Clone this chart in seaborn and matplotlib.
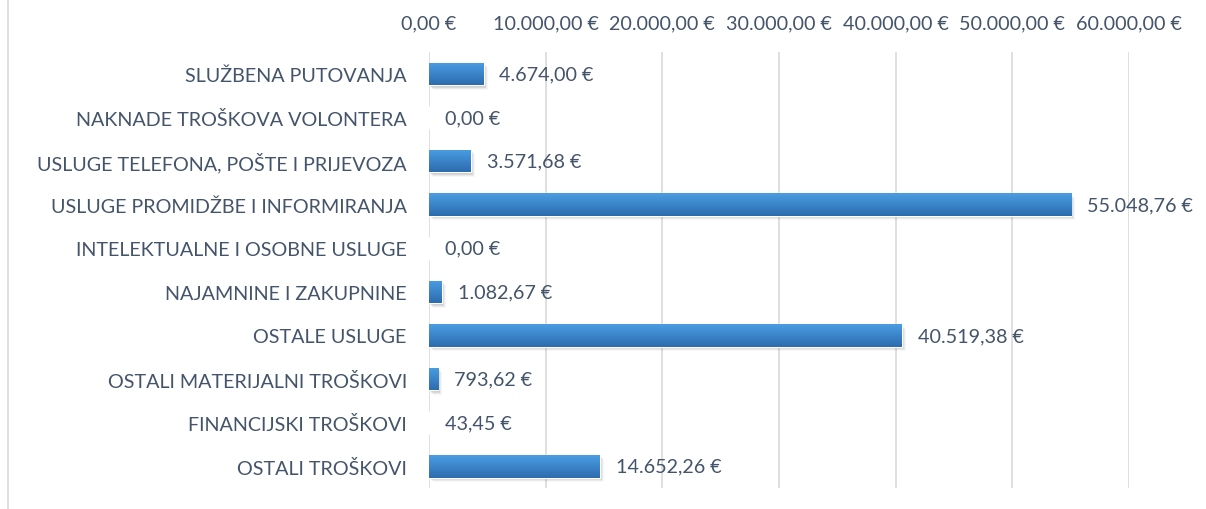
import matplotlib
matplotlib.use("Agg")
import matplotlib.pyplot as plt
import matplotlib.transforms as mtransforms
from matplotlib.lines import Line2D
from matplotlib.patches import Rectangle
from matplotlib.ticker import FixedLocator, FuncFormatter
import numpy as np
import pandas as pd
import seaborn as sns

# chart data
categories = [
    "SLUŽBENA PUTOVANJA",
    "NAKNADE TROŠKOVA VOLONTERA",
    "USLUGE TELEFONA, POŠTE I PRIJEVOZA",
    "USLUGE PROMIDŽBE I INFORMIRANJA",
    "INTELEKTUALNE I OSOBNE USLUGE",
    "NAJAMNINE I ZAKUPNINE",
    "OSTALE USLUGE",
    "OSTALI MATERIJALNI TROŠKOVI",
    "FINANCIJSKI TROŠKOVI",
    "OSTALI TROŠKOVI",
]
values = [4674.00, 0.00, 3571.68, 55048.76, 0.00, 1082.67, 40519.38, 793.62, 43.45, 14652.26]
x_ticks = [0, 10000, 20000, 30000, 40000, 50000, 60000]

TEXT = "#44546A"
GRID = "#D9D9D9"
TOP_BLUE = "#4A9DE3"
BOTTOM_BLUE = "#2D6CAE"
FS = 14.2


def eur(v):
    s = f"{v:,.2f}".replace(",", "X").replace(".", ",").replace("X", ".")
    return f"{s} €"


sns.set_theme(style="white")
plt.rcParams["font.family"] = ["Lato", "DejaVu Sans"]

df = pd.DataFrame({"category": categories, "value": values})

fig = plt.figure(figsize=(12.06, 5.10), dpi=100)
ax = fig.add_axes([0.3557, 0.041, 0.5805, 0.855])

sns.barplot(data=df, x="value", y="category", orient="h", ax=ax,
            color=TOP_BLUE, width=0.52, saturation=1)

ax.set_xlim(0, x_ticks[-1])
ax.xaxis.tick_top()
ax.xaxis.set_major_locator(FixedLocator(x_ticks))
ax.xaxis.set_major_formatter(FuncFormatter(lambda v, p: eur(v)))
ax.tick_params(axis="x", length=0, pad=15, labelsize=FS, labelcolor=TEXT)
ax.tick_params(axis="y", length=0, pad=16, labelsize=FS, labelcolor=TEXT)
ax.set_xlabel("")
ax.set_ylabel("")
ax.grid(axis="x", color=GRID, lw=1.2)
ax.set_axisbelow(True)
for s in ax.spines.values():
    s.set_visible(False)

# gradient fill + soft shadow on each bar
grad = np.linspace(0, 1, 64).reshape(-1, 1)
cmap = matplotlib.colors.LinearSegmentedColormap.from_list("bar", [TOP_BLUE, BOTTOM_BLUE])
for patch in list(ax.patches):
    x0, y0 = patch.get_x(), patch.get_y()
    w, h = patch.get_width(), patch.get_height()
    if w <= 100:
        continue
    for i, a in enumerate([0.09, 0.07, 0.05, 0.03]):
        off = mtransforms.offset_copy(ax.transData, fig=fig, x=1 + i, y=-(1.5 + i), units="dots")
        ax.add_patch(Rectangle((x0, y0), w, h, transform=off, facecolor="black",
                               alpha=a, lw=0, zorder=1.5))
    im = ax.imshow(grad, cmap=cmap, aspect="auto", extent=(x0, x0 + w, y0 + h, y0),
                   zorder=2.5, interpolation="bicubic")
    im.set_clip_path(patch)
    patch.set_zorder(2)

ax.set_ylim(len(categories) - 0.5, -0.5)
ax.set_xlim(0, x_ticks[-1])

for i, v in enumerate(values):
    ax.annotate(eur(v), (v, i), xytext=(11.5, 0), textcoords="offset points",
                va="center", ha="left", fontsize=FS, color=TEXT)

fig.add_artist(Line2D([0.0066, 0.0066], [0, 1], color=GRID, lw=1.2))

fig.savefig("out.png", dpi=100)
